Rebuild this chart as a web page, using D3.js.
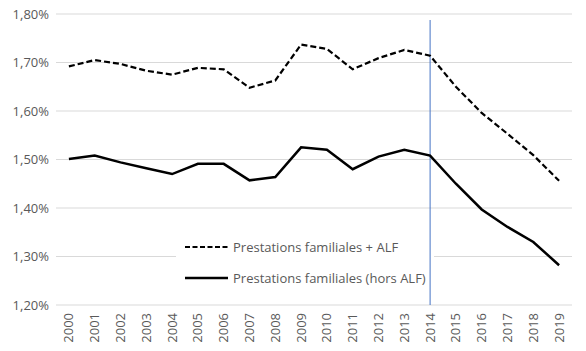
<!DOCTYPE html>
<html>
<head>
<meta charset="utf-8">
<script src="https://cdn.jsdelivr.net/npm/d3@7"></script>
<style>
  body { margin: 0; background: #fff; }
  text { font-family: "Open Sans", "DejaVu Sans", sans-serif; }
</style>
</head>
<body>
<svg id="chart" width="586" height="351"></svg>
<script>
const years = ["2000","2001","2002","2003","2004","2005","2006","2007","2008","2009",
  "2010","2011","2012","2013","2014","2015","2016","2017","2018","2019"];
// Prestations familiales + ALF (% PIB)
const avecAlf = [1.692,1.705,1.697,1.683,1.675,1.689,1.686,1.648,1.663,1.737,
  1.728,1.686,1.709,1.726,1.714,1.650,1.596,1.553,1.509,1.456];
// Prestations familiales (hors ALF)
const horsAlf = [1.501,1.508,1.494,1.482,1.470,1.491,1.491,1.457,1.464,1.525,
  1.520,1.480,1.506,1.520,1.508,1.450,1.397,1.361,1.330,1.282];
const yTicks = [1.2,1.3,1.4,1.5,1.6,1.7,1.8];
const markerYear = "2014";
const legendLabels = ["Prestations familiales + ALF", "Prestations familiales (hors ALF)"];

const svg = d3.select("#chart");
const margin = { top: 14, right: 14, bottom: 46, left: 56 };
const width = 586, height = 351;

const x = d3.scaleBand().domain(years).range([margin.left, width - margin.right]);
const y = d3.scaleLinear().domain([1.2, 1.8]).range([height - margin.bottom, margin.top]);
const cx = d => x(d) + x.bandwidth() / 2;
const fmt = v => d3.format(".2f")(v).replace(".", ",") + "%";

// gridlines
svg.append("g").selectAll("line").data(yTicks).join("line")
  .attr("x1", margin.left).attr("x2", width - margin.right)
  .attr("y1", d => y(d)).attr("y2", d => y(d))
  .attr("stroke", "#d9d9d9").attr("stroke-width", 1);

// y labels
svg.append("g").selectAll("text").data(yTicks).join("text")
  .attr("x", 49).attr("y", d => y(d)).attr("dy", "0.35em")
  .attr("text-anchor", "end").attr("fill", "#595959").attr("font-size", 13)
  .text(fmt);

// x labels
svg.append("g").selectAll("text").data(years).join("text")
  .attr("transform", d => `translate(${cx(d)},${y(1.2) + 8}) rotate(-90)`)
  .attr("dy", "0.35em").attr("text-anchor", "end")
  .attr("fill", "#595959").attr("font-size", 13)
  .text(d => d);

// legend background (covers gridline)
svg.append("rect").attr("x", 176).attr("y", 232).attr("width", 258).attr("height", 56)
  .attr("fill", "#fff");

// marker line
svg.append("line")
  .attr("x1", cx(markerYear)).attr("x2", cx(markerYear))
  .attr("y1", 20).attr("y2", y(1.2))
  .attr("stroke", "#4472c4").attr("stroke-width", 1);

const line = d3.line().x((d, i) => cx(years[i])).y(d => y(d));
svg.append("path").datum(avecAlf).attr("d", line)
  .attr("fill", "none").attr("stroke", "#000").attr("stroke-width", 2.2)
  .attr("stroke-dasharray", "6,3");
svg.append("path").datum(horsAlf).attr("d", line)
  .attr("fill", "none").attr("stroke", "#000").attr("stroke-width", 2.5);

// legend
const lg = svg.append("g");
legendLabels.forEach((t, i) => {
  const ly = 247 + i * 31;
  lg.append("line").attr("x1", 185).attr("x2", 228).attr("y1", ly).attr("y2", ly)
    .attr("stroke", "#000").attr("stroke-width", i === 0 ? 2 : 2.5)
    .attr("stroke-dasharray", i === 0 ? "5,2.5" : null);
  lg.append("text").attr("x", 233).attr("y", ly).attr("dy", "0.35em")
    .attr("fill", "#595959").attr("font-size", 13).text(t);
});
</script>
</body>
</html>
